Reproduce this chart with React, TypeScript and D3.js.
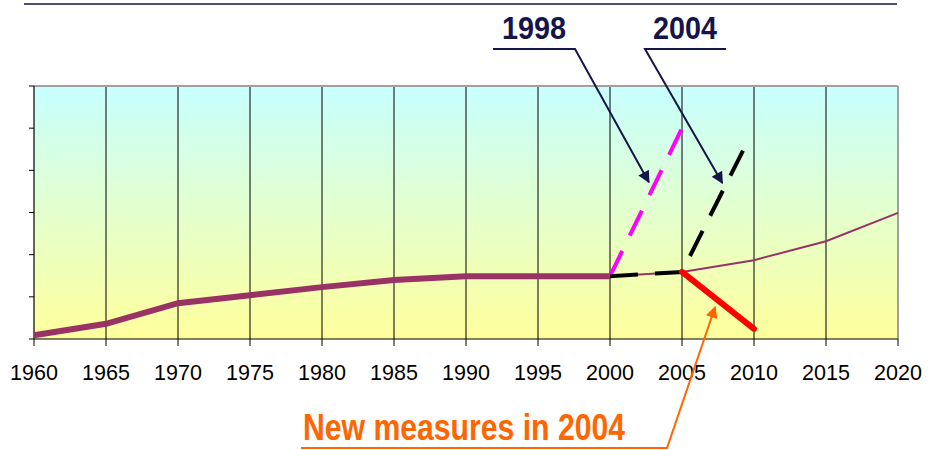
import * as d3 from "d3";

// main series, thick part (historic)
const histYears = [1960, 1965, 1970, 1975, 1980, 1985, 1990, 1995, 2000];
const histValues = [0.09, 0.36, 0.85, 1.04, 1.23, 1.4, 1.49, 1.49, 1.49];

// baseline trend after 2000 (thin)
const trendYears = [2000, 2005, 2010, 2015, 2020];
const trendValues = [1.49, 1.59, 1.87, 2.32, 2.99];

// 1998 projection (magenta dashed)
const proj1998Years = [2000, 2005];
const proj1998Values = [1.49, 5.0];

// 2004 projection (black dashed)
const proj2004Years = [2000, 2005, 2009.5];
const proj2004Values = [1.49, 1.59, 4.65];

// new measures (red)
const measuresYears = [2005, 2010];
const measuresValues = [1.59, 0.24];

const tickYears = d3.range(1960, 2021, 5);
const yTicks = d3.range(0, 7, 1);

const width = 928,
  height = 450;
const left = 34,
  right = 898,
  top = 86,
  bottom = 339;

const zip = (xs: number[], ys: number[]) => xs.map((x, i) => [x, ys[i]] as [number, number]);

export default function App() {
  const x = d3.scaleLinear().domain([1960, 2020]).range([left, right]);
  const y = d3.scaleLinear().domain([0, 6]).range([bottom, top]);
  const line = d3
    .line<[number, number]>()
    .x((d) => x(d[0]))
    .y((d) => y(d[1]));

  const navy = "#15154a";
  const orange = "#ff6600";
  const purple = "#993366";

  // arrow tips in data coords
  const tip1998 = [x(2002.7), y(3.72)];
  const tip2004 = [x(2007.8), y(3.7)];
  const tipNew = [x(2007.3), y(0.76)];

  return (
    <svg width={width} height={height} style={{ position: "absolute", left: 0, top: 0 }}>
      <defs>
        <linearGradient id="bg" x1="0" y1="0" x2="0" y2="1">
          <stop offset="0" stopColor="#c8ffff" />
          <stop offset="1" stopColor="#ffff9c" />
        </linearGradient>
        <marker id="ahNavy" viewBox="0 0 10 10" refX="9" refY="5" markerWidth="8" markerHeight="6" orient="auto" markerUnits="strokeWidth">
          <path d="M0,0 L10,5 L0,10 z" fill={navy} />
        </marker>
        <marker id="ahOrange" viewBox="0 0 10 10" refX="9" refY="5" markerWidth="8" markerHeight="6" orient="auto" markerUnits="strokeWidth">
          <path d="M0,0 L10,5 L0,10 z" fill={orange} />
        </marker>
      </defs>

      {/* top rule */}
      <line x1={24} x2={897} y1={4} y2={4} stroke={navy} strokeWidth={1.6} />

      {/* plot area */}
      <rect x={left} y={top} width={right - left} height={bottom - top} fill="url(#bg)" />
      {tickYears.slice(1, -1).map((t) => (
        <line key={t} x1={x(t)} x2={x(t)} y1={top} y2={bottom} stroke="#000" strokeWidth={1} />
      ))}
      <line x1={left} x2={right} y1={top} y2={top} stroke="#a0a0a0" strokeWidth={2} />
      <line x1={right} x2={right} y1={top} y2={bottom} stroke="#a0a0a0" strokeWidth={2} />
      <line x1={left} x2={right} y1={bottom} y2={bottom} stroke="#000" strokeWidth={1.2} />
      <line x1={left} x2={left} y1={top} y2={bottom} stroke="#000" strokeWidth={1.2} />

      {/* y ticks */}
      {yTicks.map((t) => (
        <line key={t} x1={left - 5} x2={left} y1={y(t)} y2={y(t)} stroke="#000" strokeWidth={1} />
      ))}

      {/* x ticks & labels */}
      {tickYears.map((t) => (
        <g key={t}>
          <line x1={x(t)} x2={x(t)} y1={bottom} y2={bottom + 7} stroke="#000" strokeWidth={1} />
          <text
            x={x(t)}
            y={380}
            textAnchor="middle"
            fontFamily="'Liberation Sans', Arial, sans-serif"
            fontSize={21.5}
            fill="#000"
          >
            {t}
          </text>
        </g>
      ))}

      {/* series */}
      <path d={line(zip(trendYears, trendValues)) || ""} fill="none" stroke={purple} strokeWidth={2} />
      <path d={line(zip(histYears, histValues)) || ""} fill="none" stroke={purple} strokeWidth={6} />
      <path
        d={line(zip(proj1998Years, proj1998Values)) || ""}
        fill="none"
        stroke="#ff00ff"
        strokeWidth={4}
        strokeDasharray="28,17"
      />
      <path
        d={line(zip(proj2004Years, proj2004Values)) || ""}
        fill="none"
        stroke="#000"
        strokeWidth={4}
        strokeDasharray="28,17"
      />
      <path
        d={line(zip(measuresYears, measuresValues)) || ""}
        fill="none"
        stroke="#ff0000"
        strokeWidth={6}
        strokeLinecap="round"
      />

      {/* annotations */}
      <g fontFamily="'Liberation Sans', Arial, sans-serif" fontWeight="bold">
        <text x={502} y={39} fontSize={32} fill={navy} textLength={64} lengthAdjust="spacingAndGlyphs">
          1998
        </text>
        <polyline
          points={`493,49 575,49 ${tip1998[0]},${tip1998[1]}`}
          fill="none"
          stroke={navy}
          strokeWidth={2}
          markerEnd="url(#ahNavy)"
        />
        <text x={653} y={39} fontSize={32} fill={navy} textLength={64} lengthAdjust="spacingAndGlyphs">
          2004
        </text>
        <polyline
          points={`726,49 645,49 ${tip2004[0]},${tip2004[1]}`}
          fill="none"
          stroke={navy}
          strokeWidth={2}
          markerEnd="url(#ahNavy)"
        />
        <text x={303} y={440} fontSize={37} fill={orange} textLength={322} lengthAdjust="spacingAndGlyphs">
          New measures in 2004
        </text>
        <polyline
          points={`301,448 667,448 ${tipNew[0]},${tipNew[1]}`}
          fill="none"
          stroke={orange}
          strokeWidth={2}
          markerEnd="url(#ahOrange)"
        />
      </g>
    </svg>
  );
}
